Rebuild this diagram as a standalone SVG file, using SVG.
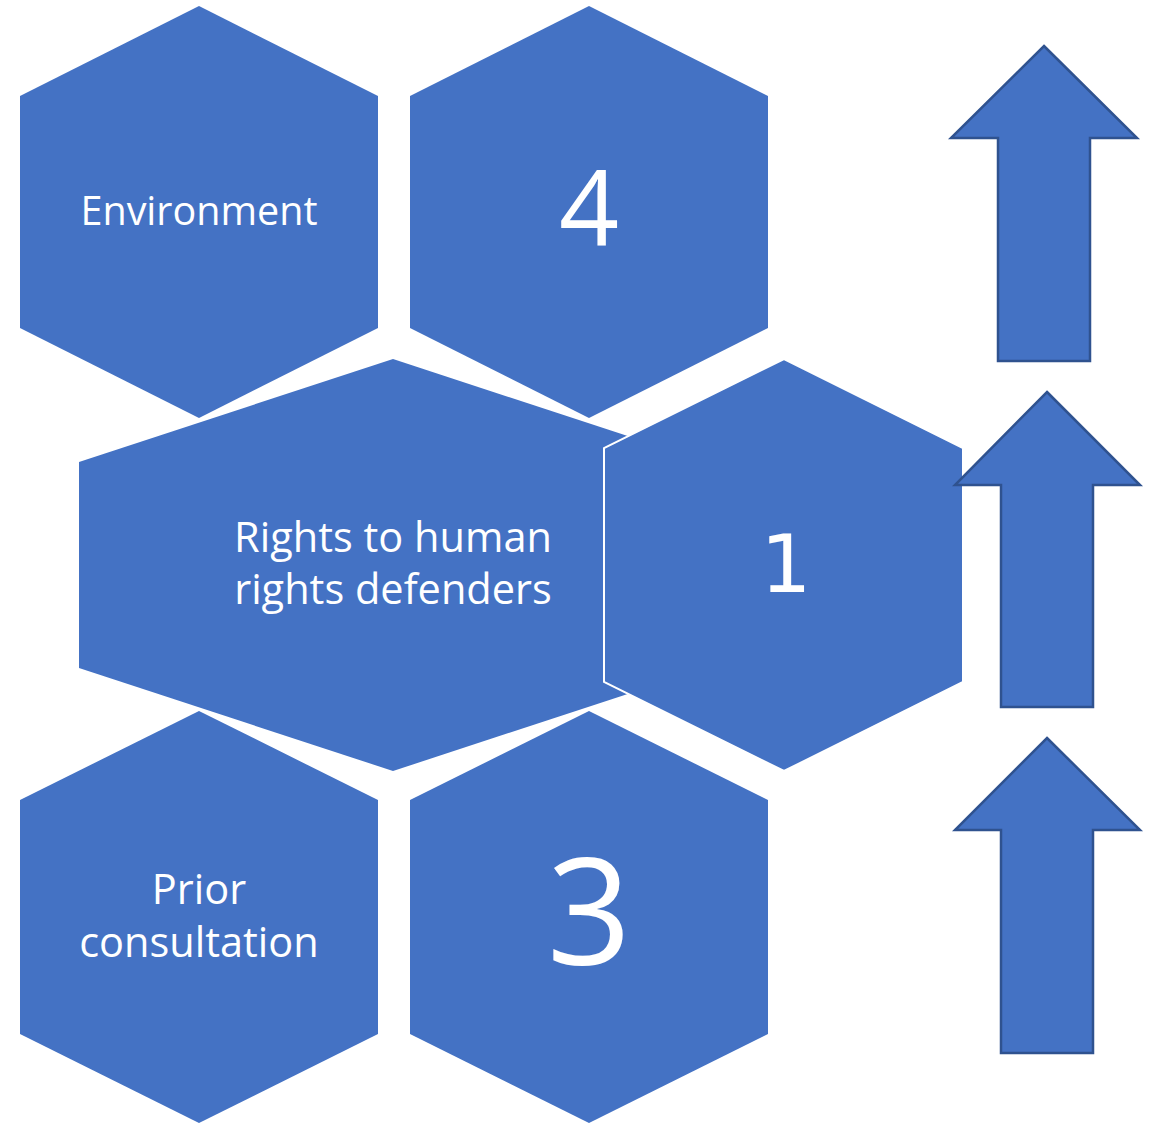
<svg xmlns="http://www.w3.org/2000/svg" width="1158" height="1124" viewBox="0 0 1158 1124">
<style>
.hex{fill:#4472C4;}
.hexw{fill:#4472C4;stroke:#FFFFFF;stroke-width:2;}
.arr{fill:#4472C4;stroke:#2F528F;stroke-width:2.5;}
.t{font-family:"Open Sans","Noto Sans",sans-serif;fill:#FFFFFF;text-anchor:middle;}
</style>
<rect width="1158" height="1124" fill="#FFFFFF"/>
<g id="node-environment">
<polygon class="hex" points="199,6 378,96 378,328 199,418 20,328 20,96"/>
<text class="t" x="199" y="225" font-size="39.5">Environment</text>
</g>
<g id="node-4">
<polygon class="hex" points="589,6 768,96 768,328 589,418 410,328 410,96"/>
<text class="t" x="589" y="245" font-size="105">4</text>
</g>
<g id="node-rights">
<polygon class="hex" points="393,359 707,462 707,668 393,771 79,668 79,462"/>
<text class="t" x="393" y="552" font-size="41.5">Rights to human</text>
<text class="t" x="393" y="604" font-size="41.5">rights defenders</text>
</g>
<g id="node-1">
<polygon class="hexw" points="784,359 963,448 963,682 784,771 604,682 604,448"/>
<text class="t" x="786" y="592" font-size="80" style="font-family:'DejaVu Sans',sans-serif">1</text>
</g>
<g id="node-prior">
<polygon class="hex" points="199,711 378,800 378,1034 199,1123 20,1034 20,800"/>
<text class="t" x="199" y="904" font-size="41.5">Prior</text>
<text class="t" x="199" y="957" font-size="41.5">consultation</text>
</g>
<g id="node-3">
<polygon class="hex" points="589,711 768,800 768,1034 589,1123 410,1034 410,800"/>
<text class="t" x="589" y="965" font-size="148">3</text>
</g>
<g id="connectors">
<polygon class="arr" points="1044,46 1137,138 1090,138 1090,361 998,361 998,138 951,138"/>
<polygon class="arr" points="1047,392 1140,485 1093,485 1093,707 1001,707 1001,485 955,485"/>
<polygon class="arr" points="1047,738 1140,830 1093,830 1093,1053 1001,1053 1001,830 955,830"/>
</g>
</svg>
